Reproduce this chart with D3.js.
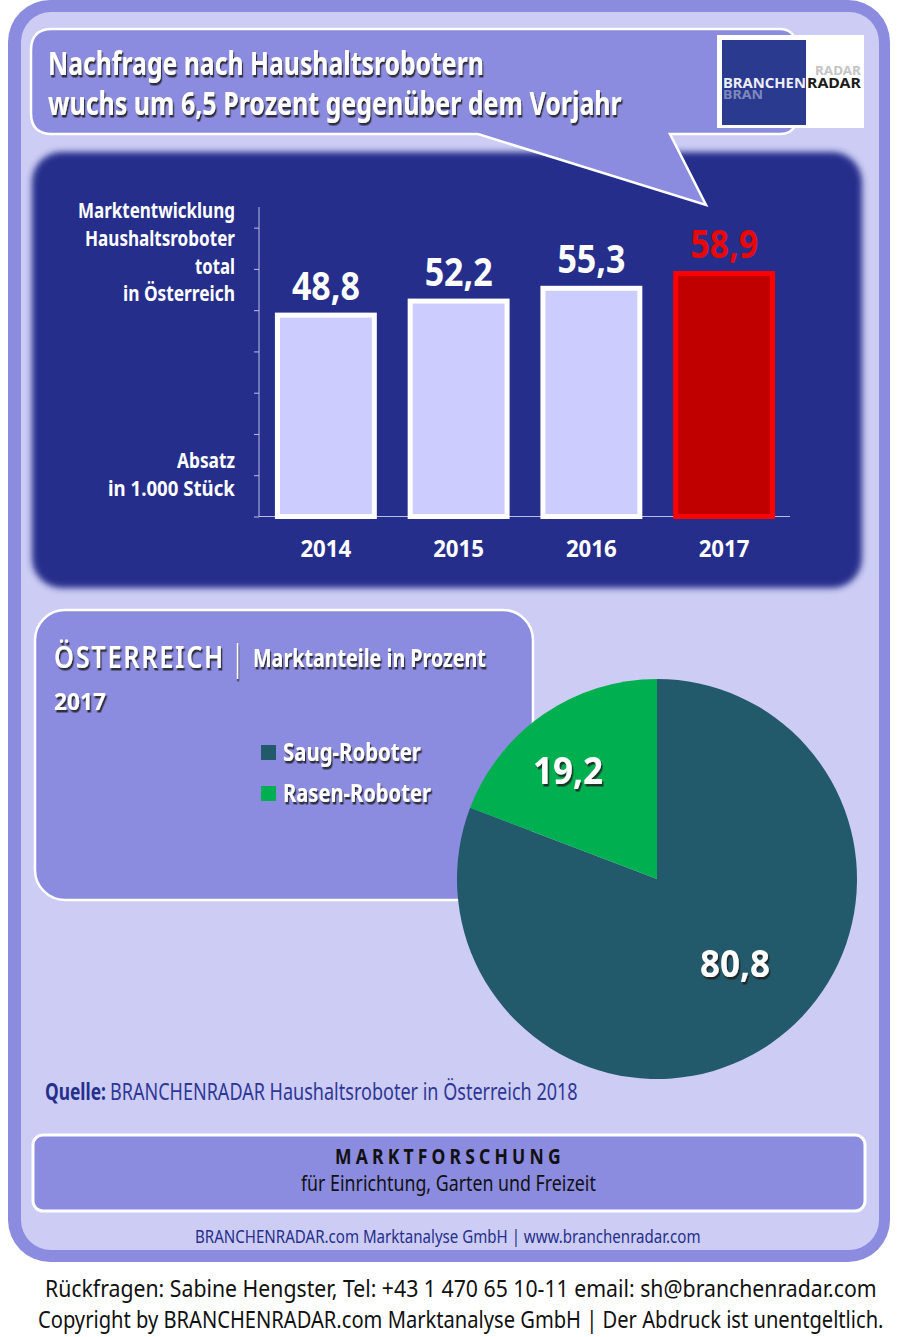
<!DOCTYPE html>
<html><head><meta charset="utf-8">
<script src="https://cdn.jsdelivr.net/npm/d3@7"></script>
<style>html,body{margin:0;padding:0;background:#fff}svg{display:block}</style>
</head><body><div id="c"></div>
<script>
const years = ["2014","2015","2016","2017"];
const sales = [48.8,52.2,55.3,58.9];
const salesLabels = ["48,8","52,2","55,3","58,9"];
const yTicks = [0,10,20,30,40,50,60,70];
const segments = ["Saug-Roboter","Rasen-Roboter"];
const shares = [80.8,19.2];
const shareLabels = ["80,8","19,2"];
const segmentColors = ["#225a6b","#00b050"];

const F = "'Noto Sans','Open Sans',sans-serif";
const svg = d3.select("#c").append("svg").attr("width",900).attr("height",1337);
const defs = svg.append("defs");
const sh = defs.append("filter").attr("id","sh").attr("x","-10%").attr("y","-20%").attr("width","120%").attr("height","150%");
sh.append("feDropShadow").attr("dx",1.6).attr("dy",2.5).attr("stdDeviation",0.7).attr("flood-color","#1a1a1a").attr("flood-opacity",0.85);
const bl = defs.append("filter").attr("id","bl").attr("x","-5%").attr("y","-5%").attr("width","110%").attr("height","110%");
bl.append("feGaussianBlur").attr("stdDeviation",3);

// Text is squeezed horizontally to the reference's condensed width.
function txt(s,x,y,w,size,o={}){
  const t = svg.append("text").attr("font-family",F).attr("font-size",size)
    .attr("font-weight",o.weight||"bold").attr("fill",o.fill||"#fff").text(s);
  if(o.ls) t.attr("letter-spacing",o.ls);
  const n = t.node().getComputedTextLength();
  t.attr("transform",`translate(${x},${y}) scale(${w/n},1)`);
  if(o.shadow) t.attr("filter","url(#sh)");
  return t;
}

// frame
svg.append("rect").attr("x",8).attr("y",0).attr("width",882).attr("height",1262).attr("rx",42).attr("fill","#8b8be0");
svg.append("rect").attr("x",21).attr("y",12).attr("width",858).attr("height",1238).attr("rx",30).attr("fill","#ccccf4");

// dark panel
svg.append("rect").attr("x",32).attr("y",152).attr("width",830).attr("height",436).attr("rx",30).attr("fill","#262f8c").attr("filter","url(#bl)");

// callout
svg.append("path").attr("d","M52,29H780Q794,29 797,45V120Q794,134 780,134H670L706,205L478,134H52Q31,134 31,113V50Q31,29 52,29Z")
  .attr("fill","#8b8be0").attr("stroke","#fff").attr("stroke-width",2.5).attr("stroke-linejoin","miter");
txt("Nachfrage nach Haushaltsrobotern",48,75,436,32,{shadow:1});
txt("wuchs um 6,5 Prozent gegenüber dem Vorjahr",48,115,574,32,{shadow:1});

// logo
svg.append("rect").attr("x",717).attr("y",35).attr("width",147).attr("height",93).attr("fill","#fff");
svg.append("rect").attr("x",722).attr("y",40).attr("width",84).attr("height",85).attr("fill","#2a3b8f");
txt("RADAR",815,75,46,13,{fill:"#c4c4c4"});
txt("BRAN",723,99,40,13,{fill:"#7f88bd"});
txt("BRANCHEN",723,88,83,15,{fill:"#eeeef6"});
txt("RADAR",807,88,54,15,{fill:"#1c1c1c"});

// bar chart
const x = d3.scaleBand().domain(years).range([259.5,790.5]).paddingInner(0.27).paddingOuter(0.135);
const y = d3.scaleLinear().domain([0,75]).range([516.5,207]);
const axisCol = "#b9bde6";
const gy = svg.append("g").attr("transform","translate(259,0)").call(d3.axisLeft(y).tickValues(yTicks).tickSize(5).tickFormat(""));
const gx = svg.append("g").attr("transform","translate(0,516.5)").call(d3.axisBottom(x).tickSize(0).tickFormat(""));
[gy,gx].forEach(g=>{g.selectAll("path,line").attr("stroke",axisCol).attr("stroke-width",1);});
gx.select("path").attr("d","M259,0H790");
gy.select("path").attr("d","M0,516.5V207");

svg.selectAll("rect.bar").data(years).join("rect").attr("class","bar")
  .attr("x",d=>x(d)).attr("width",x.bandwidth())
  .attr("y",(d,i)=>y(sales[i])).attr("height",(d,i)=>y(0)-y(sales[i]))
  .attr("fill",(d,i)=>i==3?"#c00000":"#ccccff")
  .attr("stroke",(d,i)=>i==3?"#ff0000":"#fff").attr("stroke-width",5);

years.forEach((d,i)=>{
  const cx = x(d)+x.bandwidth()/2;
  txt(salesLabels[i],cx-34,y(sales[i])-15,68,40,{fill:i==3?"#e80808":"#fff"});
  txt(d,cx-25.5,557,51,24,{});
});

[["Marktentwicklung",78,218],["Haushaltsroboter",85,246],["total",195,274],["in Österreich",123,301],["Absatz",177,468],["in 1.000 Stück",108,496]]
 .forEach(a=>txt(a[0],a[1],a[2],235-a[1],22));

// share panel
svg.append("rect").attr("x",35).attr("y",610).attr("width",498).attr("height",290).attr("rx",30).attr("fill","#8b8be0").attr("stroke","#fff").attr("stroke-width",2.5);
txt("ÖSTERREICH",54,668,171,30,{shadow:1,weight:"600",ls:2});
txt("|",234,670,7,36,{shadow:1,weight:"bold"});
txt("Marktanteile in Prozent",253,667,233,25,{shadow:1});
txt("2017",54,710,52,24,{shadow:1});

// pie
const pie = d3.pie().sort(null)(shares);
const arc = d3.arc().innerRadius(0).outerRadius(200);
const gp = svg.append("g").attr("transform","translate(657,879)");
gp.selectAll("path").data(pie).join("path").attr("d",arc).attr("fill",(d,i)=>segmentColors[i]);
const labelOffset = [[78,98],[-89,-95]];
pie.forEach((p,i)=>{
  txt(shareLabels[i],657+labelOffset[i][0]-35,879+labelOffset[i][1],70,38,{shadow:1});
});

// legend
segments.forEach((s,i)=>{
  const ly = 745+i*41;
  svg.append("rect").attr("x",261).attr("y",ly).attr("width",15).attr("height",15).attr("fill",segmentColors[i]);
  txt(s,283,ly+16,i?148:138,25,{shadow:1});
});

// source
txt("Quelle:",45,1100,61,23,{fill:"#262f8c"});
txt("BRANCHENRADAR Haushaltsroboter in Österreich 2018",110,1100,468,23,{fill:"#2f3796",weight:"normal"});

// bottom band
svg.append("rect").attr("x",33).attr("y",1135).attr("width",832).attr("height",76).attr("rx",10).attr("fill","#8b8be0").attr("stroke","#fff").attr("stroke-width",3);
txt("MARKTFORSCHUNG",335,1164,230,21,{fill:"#111",ls:5});
txt("für Einrichtung, Garten und Freizeit",301,1191,295,21,{fill:"#111",weight:"normal"});
txt("BRANCHENRADAR.com Marktanalyse GmbH | www.branchenradar.com",195,1243,506,19,{fill:"#262f8c",weight:"normal"});

// footer
txt("Rückfragen: Sabine Hengster, Tel: +43 1 470 65 10-11 email: sh@branchenradar.com",45,1297,832,24,{fill:"#111",weight:"normal"});
txt("Copyright by BRANCHENRADAR.com  Marktanalyse GmbH | Der Abdruck ist unentgeltlich.",38,1328,846,24,{fill:"#111",weight:"normal"});
</script></body></html>
